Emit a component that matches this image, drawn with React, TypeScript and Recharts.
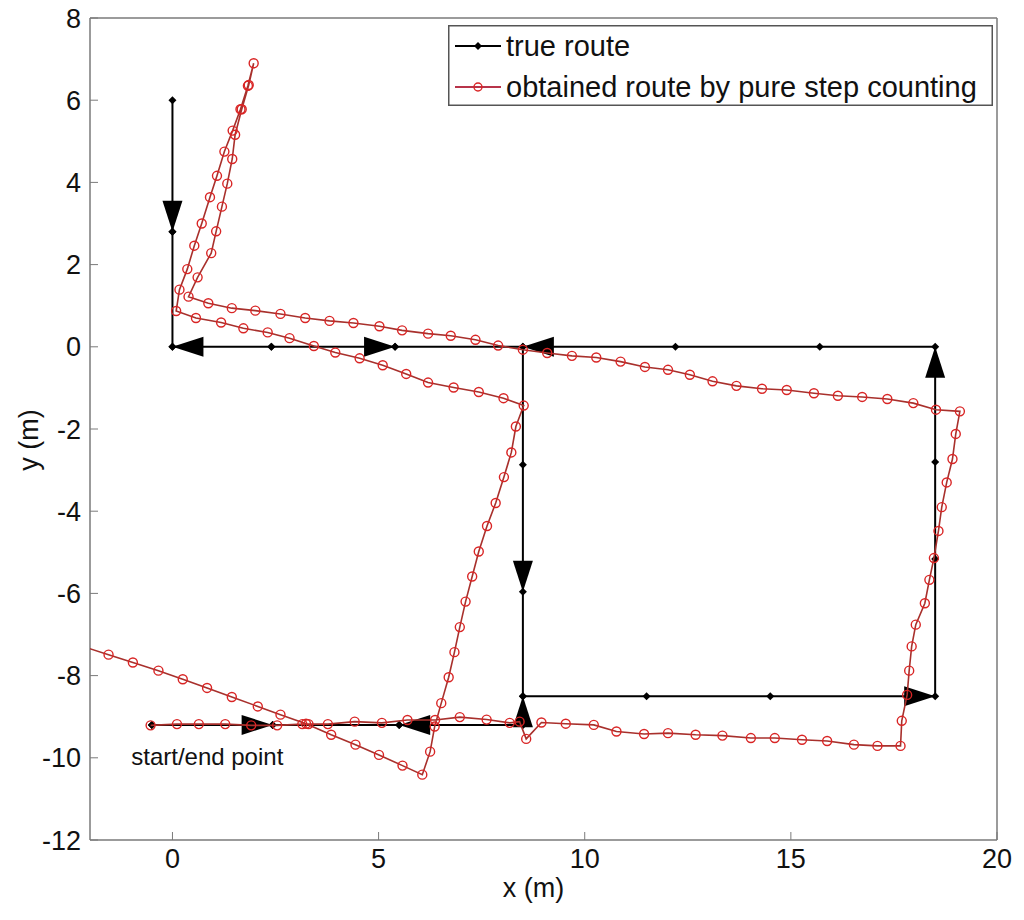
import { ScatterChart, Scatter, XAxis, YAxis, ReferenceDot } from 'recharts';

const FONT = '"Liberation Sans", Arial, Helvetica, sans-serif';

const X_TICKS = [0, 5, 10, 15, 20];
const Y_TICKS = [-12, -10, -8, -6, -4, -2, 0, 2, 4, 6, 8];

// true route, in walking order (x, y in metres)
const trueRoute: [number, number][] = [
  [-0.5, -9.2], [2.43, -9.2], [5.5, -9.2], [8.5, -9.2], [8.5, -8.5],
  [11.5, -8.5], [14.5, -8.5], [18.5, -8.5], [18.5, -5.16], [18.5, -2.8],
  [18.5, 0], [15.7, 0], [12.2, 0], [8.5, 0], [5.4, 0], [2.4, 0], [0, 0],
  [0, 2.8], [0, 6], [0, 2.8], [0, 0], [2.4, 0], [5.4, 0], [8.5, 0],
  [8.5, -2.87], [8.5, -5.96], [8.5, -8.5], [8.5, -9.2], [5.5, -9.2],
  [2.43, -9.2], [-0.5, -9.2],
];

// direction arrows drawn on the true route (tip position)
const arrowTips: [number, number, string][] = [
  [2.43, -9.2, 'right'], [5.4, 0, 'right'], [18.5, -8.5, 'right'],
  [5.5, -9.2, 'left'], [0, 0, 'left'], [8.5, 0, 'left'],
  [8.5, -8.5, 'up'], [18.5, 0, 'up'],
  [0, 2.8, 'down'], [8.5, -5.96, 'down'],
];

// obtained route by pure step counting, leg by leg
const stepBottom: [number, number][] = [
  [-0.53, -9.21], [0.11, -9.18], [0.64, -9.18], [1.28, -9.18], [1.91, -9.21],
  [2.54, -9.21], [3.15, -9.18], [3.3, -9.18], [3.77, -9.18], [4.42, -9.12],
  [5.08, -9.15], [5.7, -9.08], [6.37, -9.08], [6.97, -9.01], [7.62, -9.07],
  [8.18, -9.15], [8.42, -9.12], [8.58, -9.54], [8.95, -9.14], [9.54, -9.17],
  [10.22, -9.2], [10.77, -9.36], [11.44, -9.42], [12.02, -9.4], [12.69, -9.44],
  [13.34, -9.46], [14.03, -9.52], [14.61, -9.52], [15.27, -9.56], [15.88, -9.59],
  [16.53, -9.68], [17.1, -9.71], [17.66, -9.71],
];
const stepRight: [number, number][] = [
  [17.69, -9.1], [17.82, -8.47], [17.87, -7.88], [17.93, -7.29], [18.03, -6.76],
  [18.25, -6.24], [18.36, -5.67], [18.47, -5.14], [18.58, -4.48], [18.66, -3.9],
  [18.78, -3.3], [18.92, -2.73], [19.0, -2.12], [19.1, -1.57],
];
const stepTop: [number, number][] = [
  [18.52, -1.53], [17.97, -1.37], [17.34, -1.27], [16.73, -1.22], [16.14, -1.19],
  [15.56, -1.13], [14.9, -1.05], [14.3, -1.02], [13.68, -0.95], [13.1, -0.84],
  [12.55, -0.68], [12.02, -0.56], [11.46, -0.49], [10.87, -0.36], [10.28, -0.26],
  [9.69, -0.22], [9.09, -0.15], [8.5, -0.07], [7.9, 0.03], [7.35, 0.17],
  [6.75, 0.27], [6.2, 0.32], [5.57, 0.4], [5.02, 0.5], [4.39, 0.58],
  [3.81, 0.63], [3.22, 0.7], [2.62, 0.8], [2.01, 0.88], [1.44, 0.94],
  [0.87, 1.06], [0.39, 1.22],
];
const stepSpurUp: [number, number][] = [
  [0.61, 1.69], [0.94, 2.28], [1.06, 2.81], [1.2, 3.41], [1.33, 3.97],
  [1.45, 4.57], [1.52, 5.16], [1.68, 5.78], [1.85, 6.37], [1.97, 6.9],
];
const stepSpurDown: [number, number][] = [
  [1.83, 6.35], [1.65, 5.78], [1.46, 5.26], [1.26, 4.75], [1.08, 4.16],
  [0.91, 3.64], [0.71, 3.0], [0.53, 2.46], [0.36, 1.89], [0.17, 1.39],
  [0.09, 0.87],
];
const stepMiddle: [number, number][] = [
  [0.57, 0.7], [1.18, 0.59], [1.72, 0.45], [2.31, 0.35], [2.84, 0.21],
  [3.43, 0.02], [3.95, -0.14], [4.54, -0.28], [5.1, -0.45], [5.67, -0.66],
  [6.2, -0.87], [6.82, -0.99], [7.43, -1.1], [8.03, -1.25], [8.52, -1.43],
];
const stepCenterDown: [number, number][] = [
  [8.33, -1.94], [8.22, -2.57], [8.04, -3.17], [7.84, -3.8], [7.63, -4.36],
  [7.43, -4.98], [7.27, -5.59], [7.11, -6.2], [6.97, -6.82], [6.84, -7.43],
  [6.7, -8.04], [6.52, -8.67], [6.36, -9.24], [6.25, -9.85], [6.06, -10.41],
];
const stepReturn: [number, number][] = [
  [5.58, -10.19], [5.01, -9.93], [4.44, -9.68], [3.85, -9.44], [3.24, -9.17],
  [2.62, -8.95], [2.07, -8.75], [1.44, -8.52], [0.84, -8.3], [0.25, -8.09],
  [-0.34, -7.88], [-0.96, -7.68], [-1.55, -7.49], [-2.3, -7.25],
];

const toPts = (pairs: [number, number][]) => pairs.map(([x, y]) => ({ x, y }));

const trueData = toPts(trueRoute);
const arrowData = arrowTips.map(([x, y, dir]) => ({ x, y, dir }));
const stepData = toPts([
  ...stepBottom, ...stepRight, ...stepTop, ...stepSpurUp,
  ...stepSpurDown, ...stepMiddle, ...stepCenterDown, ...stepReturn,
]);

const AXIS_GRAY = '#7a7a7a';
const TEXT = '#111';

function Arrow(props: any) {
  const { cx, cy, payload } = props;
  const L = 31;
  const W = 10;
  let pts = '';
  if (payload.dir === 'right') pts = `${cx},${cy} ${cx - L},${cy - W} ${cx - L},${cy + W}`;
  else if (payload.dir === 'left') pts = `${cx},${cy} ${cx + L},${cy - W} ${cx + L},${cy + W}`;
  else if (payload.dir === 'up') pts = `${cx},${cy} ${cx - W},${cy + L} ${cx + W},${cy + L}`;
  else pts = `${cx},${cy} ${cx - W},${cy - L} ${cx + W},${cy - L}`;
  return <polygon points={pts} fill="#000" />;
}

function TrueDot(props: any) {
  const { cx, cy } = props;
  return (
    <polygon
      points={`${cx},${cy - 4} ${cx + 4},${cy} ${cx},${cy + 4} ${cx - 4},${cy}`}
      fill="#000"
    />
  );
}

function StepDot(props: any) {
  const { cx, cy } = props;
  return <circle cx={cx} cy={cy} r={4.5} fill="none" stroke="#d92525" strokeWidth={1.4} />;
}

function LegendBox() {
  return (
    <div style={{ position: 'absolute', left: 448, top: 25, width: 545, height: 81 }}>
      <svg width={545} height={81} style={{ display: 'block' }}>
        <rect x={0.75} y={0.75} width={543.5} height={79.5} fill="#fff" stroke="#555" strokeWidth={1.5} />
        <line x1={7} y1={21} x2={53} y2={21} stroke="#000" strokeWidth={2} />
        <polygon points="30,17 34,21 30,25 26,21" fill="#000" />
        <text x={58} y={21} dominantBaseline="central" fontFamily={FONT} fontSize={29} fill={TEXT}>
          true route
        </text>
        <line x1={7} y1={62} x2={53} y2={62} stroke="#b8344a" strokeWidth={2} />
        <circle cx={30} cy={62} r={4} fill="none" stroke="#d92525" strokeWidth={1.4} />
        <text x={58} y={62} dominantBaseline="central" fontFamily={FONT} fontSize={29} fill={TEXT}>
          obtained route by pure step counting
        </text>
      </svg>
    </div>
  );
}

export default function App() {
  const tickStyle = { fontFamily: FONT, fontSize: 27, fill: TEXT };
  return (
    <div style={{ position: 'relative', width: 1024, height: 920, margin: -8, background: '#fff' }}>
      <ScatterChart width={1024} height={920} margin={{ top: 17, right: 26, bottom: 20, left: 30 }}>
        <XAxis
          type="number"
          dataKey="x"
          domain={[-2, 20]}
          ticks={X_TICKS}
          interval={0}
          allowDataOverflow
          height={60}
          tickSize={-8}
          tickMargin={17}
          tick={tickStyle}
          axisLine={{ stroke: AXIS_GRAY, strokeWidth: 1.5 }}
          tickLine={{ stroke: AXIS_GRAY }}
          label={{
            content: (p: any) => {
              const vb = p.viewBox;
              return (
                <text x={vb.x + vb.width / 2 - 10} y={vb.y + 48} textAnchor="middle" dominantBaseline="central"
                  fontFamily={FONT} fontSize={27} fill={TEXT}>
                  x (m)
                </text>
              );
            },
          }}
        />
        <XAxis
          xAxisId="top"
          orientation="top"
          type="number"
          dataKey="x"
          domain={[-2, 20]}
          ticks={X_TICKS}
          interval={0}
          height={1}
          tickSize={-8}
          tickFormatter={() => ''}
          axisLine={{ stroke: AXIS_GRAY, strokeWidth: 1.5 }}
          tickLine={{ stroke: AXIS_GRAY }}
        />
        <YAxis
          type="number"
          dataKey="y"
          domain={[-12, 8]}
          ticks={Y_TICKS}
          interval={0}
          allowDataOverflow
          width={60}
          tickSize={-8}
          tickMargin={17}
          tick={tickStyle}
          axisLine={{ stroke: AXIS_GRAY, strokeWidth: 1.5 }}
          tickLine={{ stroke: AXIS_GRAY }}
          label={{
            content: (p: any) => {
              const vb = p.viewBox;
              const cx = vb.x - 1;
              const cy = vb.y + vb.height / 2 + 11;
              return (
                <text x={cx} y={cy} transform={`rotate(-90 ${cx} ${cy})`} textAnchor="middle"
                  dominantBaseline="central" fontFamily={FONT} fontSize={27} fill={TEXT}>
                  y (m)
                </text>
              );
            },
          }}
        />
        <YAxis
          yAxisId="right"
          orientation="right"
          type="number"
          dataKey="y"
          domain={[-12, 8]}
          ticks={Y_TICKS}
          interval={0}
          width={1}
          tickSize={-8}
          tickFormatter={() => ''}
          axisLine={{ stroke: AXIS_GRAY, strokeWidth: 1.5 }}
          tickLine={{ stroke: AXIS_GRAY }}
        />
        <Scatter
          name="true route"
          data={trueData}
          line={{ stroke: '#000', strokeWidth: 2 }}
          lineType="joint"
          shape={TrueDot}
          isAnimationActive={false}
        />
        <Scatter data={arrowData} shape={Arrow} isAnimationActive={false} />
        <Scatter
          name="obtained route by pure step counting"
          data={stepData}
          line={{ stroke: '#a8302c', strokeWidth: 1.6 }}
          lineType="joint"
          shape={StepDot}
          isAnimationActive={false}
        />
        <ReferenceDot
          x={-1}
          y={-9.98}
          r={0}
          ifOverflow="visible"
          label={{
            content: (p: any) => {
              const vb = p.viewBox;
              return (
                <text x={vb.x} y={vb.y} dominantBaseline="central" fontFamily={FONT} fontSize={24} fill={TEXT}>
                  start/end point
                </text>
              );
            },
          }}
        />
      </ScatterChart>
      <LegendBox />
    </div>
  );
}
